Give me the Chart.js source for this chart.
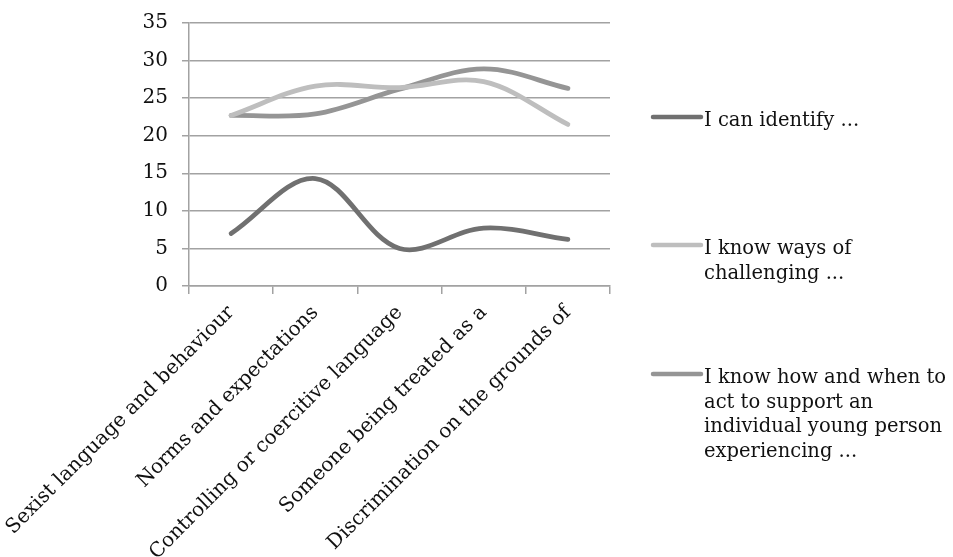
<!DOCTYPE html>
<html>
<head>
<meta charset="utf-8">
<script src="https://cdn.jsdelivr.net/npm/chart.js@4/dist/chart.umd.min.js"></script>
<style>
  html, body { margin: 0; padding: 0; background: #fff; }
  #wrap { width: 953px; height: 557px; }
</style>
</head>
<body>
<div id="wrap"><canvas id="graph"></canvas></div>
<script>
// categories along the x axis
var categories = ['Sexist language and behaviour', 'Norms and expectations',
  'Controlling or coercitive language', 'Someone being treated as a',
  'Discrimination on the grounds of'];

// series values
var canIdentify = [7.0, 14.3, 5.0, 7.7, 6.2];
var waysOfChallenging = [22.7, 26.6, 26.4, 27.2, 21.5];
var howAndWhen = [22.7, 22.9, 26.2, 28.9, 26.3];

// legend text, one entry per line
var legendLines = [
  ['I can identify ...'],
  ['I know ways of', 'challenging ...'],
  ['I know how and when to', 'act to support an', 'individual young person', 'experiencing ...']
];

var yTicks = [0, 5, 10, 15, 20, 25, 30, 35];

var colors = ['#707070', '#bebebe', '#959595'];
var gridColor = '#a2a2a2';
var font = { family: 'DejaVu Serif', size: 19.5 };
var axisFont = { family: 'DejaVu Serif', size: 20 };

// legend on the right, drawn by hand because labels wrap
var sideLegend = {
  id: 'sideLegend',
  afterDraw: function(chart) {
    var ctx = chart.ctx;
    var ys = [117, 245, 374];
    ctx.save();
    ctx.font = font.size + 'px "' + font.family + '"';
    ctx.textBaseline = 'middle';
    ctx.fillStyle = '#111';
    chart.data.datasets.forEach(function(ds, i) {
      var y = ys[i];
      ctx.strokeStyle = ds.borderColor;
      ctx.lineWidth = 4.5;
      ctx.lineCap = 'round';
      ctx.beginPath();
      ctx.moveTo(653, y);
      ctx.lineTo(701, y);
      ctx.stroke();
      legendLines[i].forEach(function(t, j) {
        ctx.fillText(t, 704, y + 4 + j * 24.5);
      });
    });
    ctx.restore();
  }
};

var myChart = new Chart(document.getElementById('graph'), {
  type: 'line',
  data: {
    labels: categories,
    datasets: [
      { label: legendLines[0].join(' '), data: canIdentify, borderColor: colors[0] },
      { label: legendLines[1].join(' '), data: waysOfChallenging, borderColor: colors[1] },
      { label: legendLines[2].join(' '), data: howAndWhen, borderColor: colors[2] }
    ]
  },
  options: {
    responsive: true,
    maintainAspectRatio: false,
    animation: false,
    devicePixelRatio: 1,
    layout: { padding: { left: 0, top: 23, right: 343, bottom: 0 } },
    elements: {
      line: { tension: 0.35, borderWidth: 4.8, borderCapStyle: 'round', fill: false },
      point: { radius: 0, hoverRadius: 0 }
    },
    plugins: {
      legend: { display: false },
      tooltip: { enabled: false }
    },
    scales: {
      x: {
        offset: true,
        afterFit: function(s) {
          s.height = 271;
          s.paddingLeft = 0; s.paddingRight = 0;
        },
        grid: { offset: true, drawOnChartArea: false, drawTicks: true, tickLength: 8, color: gridColor, lineWidth: 1.5 },
        border: { color: gridColor, width: 1.5 },
        ticks: { font: axisFont, color: '#111', minRotation: 45, maxRotation: 45, padding: 7, autoSkip: false }
      },
      y: {
        min: 0,
        max: 35,
        afterFit: function(s) {
          s.width = 189;
          s.paddingTop = 0; s.paddingBottom = 0;
        },
        afterBuildTicks: function(s) { s.ticks = yTicks.map(function(v) { return { value: v }; }); },
        grid: { color: gridColor, lineWidth: 1.5, tickLength: 7 },
        border: { color: gridColor, width: 1.5 },
        ticks: { font: axisFont, color: '#111', padding: 14 }
      }
    }
  },
  plugins: [sideLegend]
});
</script>
</body>
</html>
